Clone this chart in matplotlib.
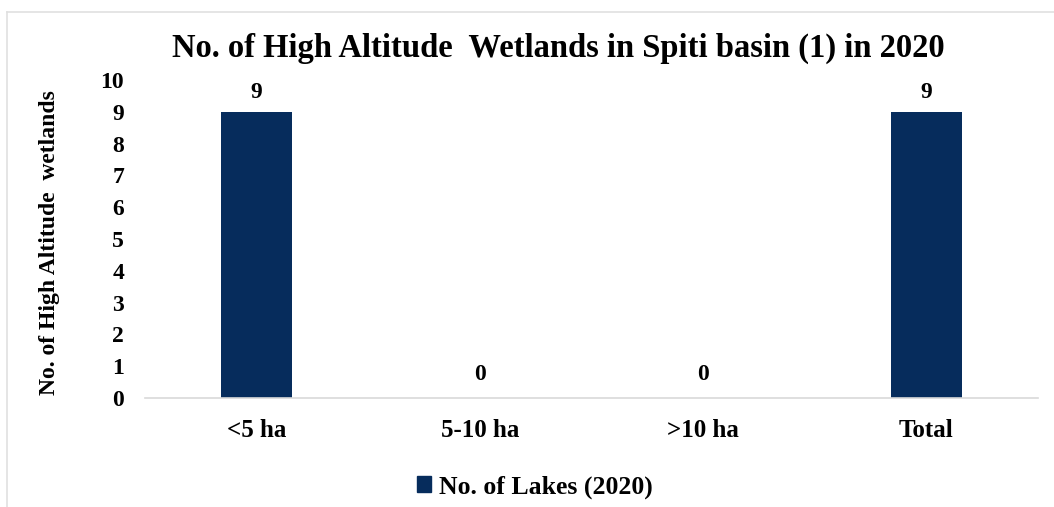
import matplotlib
matplotlib.use("Agg")
import matplotlib.pyplot as plt
from matplotlib.lines import Line2D

categories = ["<5 ha", "5-10 ha", ">10 ha", "Total"]
lakes_2020 = [9, 0, 0, 9]
yticks = list(range(0, 11))

W, H = 1054, 507
fig = plt.figure(figsize=(W / 100, H / 100), dpi=100)
plt.rcParams['font.family'] = ['Liberation Serif', 'DejaVu Serif']

ax = fig.add_axes([145 / W, 1 - 398 / H, (1038 - 145) / W, (398 - 80) / H])
x = list(range(len(categories)))
ax.bar(x, lakes_2020, width=0.315, color="#062c5c", label="No. of Lakes (2020)")
ax.set_xlim(-0.5, 3.5)
ax.set_ylim(0, 10)
ax.set_yticks(yticks)
ax.set_yticklabels([str(t) for t in yticks], fontsize=17, fontweight="bold")
ax.set_xticks(x)
ax.set_xticklabels(categories, fontsize=18, fontweight="bold")
ax.tick_params(axis="both", length=0)
ax.tick_params(axis="y", pad=15)
ax.tick_params(axis="x", pad=15)
for s in ["top", "right", "left"]:
    ax.spines[s].set_visible(False)
ax.spines["bottom"].set_color("#d9d9d9")
ax.spines["bottom"].set_linewidth(1.2)

for xi, v in zip(x, lakes_2020):
    ax.annotate(str(v), (xi, v), xytext=(0, 6 if v else 9), textcoords="offset points",
                ha="center", va="bottom", fontsize=17, fontweight="bold")

ax.set_ylabel("No. of High Altitude  wetlands", fontsize=17, fontweight="bold")
ax.yaxis.set_label_coords(-85 / (1038 - 145), 0.49)

fig.text(558 / W, 1 - 48 / H, "No. of High Altitude  Wetlands in Spiti basin (1) in 2020",
         ha="center", va="center", fontsize=23.5, fontweight="bold")

handles = [plt.Rectangle((0, 0), 1, 1, color="#062c5c")]
fig.legend(handles, ["No. of Lakes (2020)"], loc="center", bbox_to_anchor=(535 / W, 1 - 487 / H),
           frameon=False, prop={"size": 18.5, "weight": "bold"}, handlelength=0.55, handleheight=0.55,
           handletextpad=0.3)

# figure border (top and left visible)
fig.add_artist(Line2D([7 / W, 1], [1 - 11.5 / H, 1 - 11.5 / H], transform=fig.transFigure,
                      color="#e0e0e0", lw=1.2))
fig.add_artist(Line2D([7 / W, 7 / W], [0, 1 - 11.5 / H], transform=fig.transFigure,
                      color="#e0e0e0", lw=1.2))

fig.savefig("out.png", dpi=100)
